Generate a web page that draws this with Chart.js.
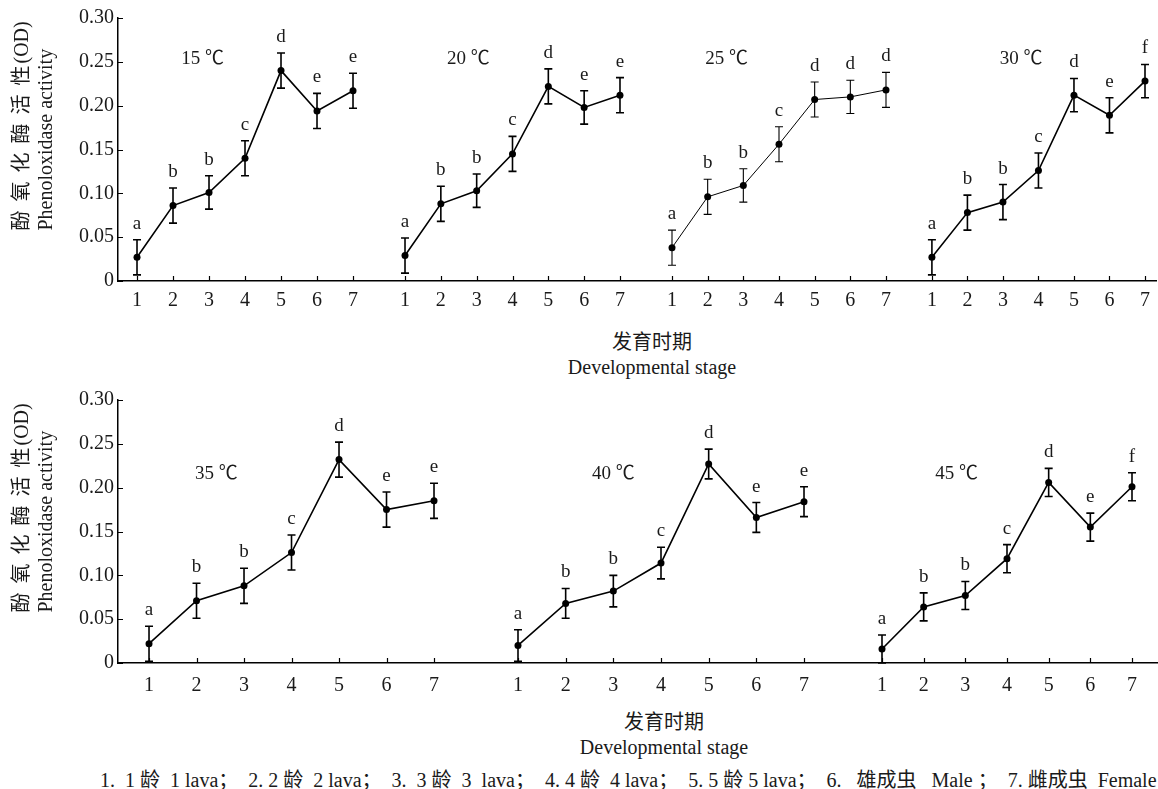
<!DOCTYPE html>
<html><head><meta charset="utf-8">
<script src="https://cdn.jsdelivr.net/npm/chart.js@4.4.0/dist/chart.umd.min.js"></script>
<style>
html,body{margin:0;padding:0;background:#fff;}
body{width:1158px;height:789px;position:relative;overflow:hidden;font-family:'Liberation Serif','Noto Sans CJK SC',serif;color:#1a1a1a;}
canvas{position:absolute;}
.xt{position:absolute;white-space:nowrap;transform:translate(-50%,-50%);font-size:20px;line-height:20px;}
#foot{position:absolute;left:100px;top:769px;font-size:20px;line-height:22px;white-space:pre;}
</style></head><body>
<div class="xt" style="left:652px;top:342px">发育时期</div>
<div class="xt" style="left:652px;top:367px">Developmental stage</div>
<div class="xt" style="left:664px;top:722px">发育时期</div>
<div class="xt" style="left:664px;top:747px">Developmental stage</div>
<div id="foot">1.  1 龄  1 lava；  2. 2 龄  2 lava；  3.  3 龄  3  lava；  4. 4 龄  4 lava；  5. 5 龄 5 lava；  6.   雄成虫   Male ；  7. 雌成虫  Female</div>
<script>
// ---- data ----
const stages = [1, 2, 3, 4, 5, 6, 7];
const stageLabels = ['1', '2', '3', '4', '5', '6', '7'];
const yTickValues = [0, 0.05, 0.10, 0.15, 0.20, 0.25, 0.30];
const temperatures = ['15 ℃', '20 ℃', '25 ℃', '30 ℃', '35 ℃', '40 ℃', '45 ℃'];
const yTitleCn = '酚氧化酶活性';
const yTitleUnit = '(OD)';
const yTitleEn = 'Phenoloxidase activity';

const po15 = [0.027, 0.086, 0.101, 0.140, 0.240, 0.194, 0.217];
const po20 = [0.029, 0.088, 0.103, 0.145, 0.222, 0.198, 0.212];
const po25 = [0.038, 0.096, 0.109, 0.156, 0.207, 0.210, 0.218];
const po30 = [0.027, 0.078, 0.090, 0.126, 0.212, 0.189, 0.228];
const po35 = [0.022, 0.071, 0.088, 0.126, 0.232, 0.175, 0.185];
const po40 = [0.020, 0.068, 0.082, 0.114, 0.227, 0.166, 0.184];
const po45 = [0.016, 0.064, 0.077, 0.119, 0.206, 0.155, 0.201];

const err15 = [0.020, 0.020, 0.019, 0.020, 0.020, 0.020, 0.020];
const err20 = [0.020, 0.020, 0.019, 0.020, 0.020, 0.019, 0.020];
const err25 = [0.020, 0.020, 0.019, 0.020, 0.020, 0.019, 0.020];
const err30 = [0.020, 0.020, 0.020, 0.020, 0.019, 0.020, 0.019];
const err35 = [0.020, 0.020, 0.020, 0.020, 0.020, 0.020, 0.020];
const err40 = [0.018, 0.017, 0.018, 0.018, 0.017, 0.017, 0.017];
const err45 = [0.016, 0.016, 0.016, 0.016, 0.016, 0.016, 0.016];

const sig15 = ['a', 'b', 'b', 'c', 'd', 'e', 'e'];
const sig20 = ['a', 'b', 'b', 'c', 'd', 'e', 'e'];
const sig25 = ['a', 'b', 'b', 'c', 'd', 'd', 'd'];
const sig30 = ['a', 'b', 'b', 'c', 'd', 'e', 'f'];
const sig35 = ['a', 'b', 'b', 'c', 'd', 'e', 'e'];
const sig40 = ['a', 'b', 'b', 'c', 'd', 'e', 'e'];
const sig45 = ['a', 'b', 'b', 'c', 'd', 'e', 'f'];

// ---- layout (not data) ----
const FONT = "'Liberation Serif','Noto Sans CJK SC',serif";
const INK = '#1a1a1a';
const rows = [
  {top: 0, height: 320, padTop: 18, axisH: 39, tickPad: 8},
  {top: 380, height: 320, padTop: 20, axisH: 37, tickPad: 11}
];
const panels = [
  {row: 0, left: 0,   right: 379,  xMin: 0.472, xMax: 7.722, lx: 2.82, ly: 0.253, lw: 1.6, v: po15, e: err15, s: sig15, t: temperatures[0]},
  {row: 0, left: 379, right: 646,  xMin: 0.274, xMax: 7.726, lx: 2.77, ly: 0.253, lw: 1.6, v: po20, e: err20, s: sig20, t: temperatures[1]},
  {row: 0, left: 646, right: 909,  xMin: 0.271, xMax: 7.645, lx: 2.53, ly: 0.253, lw: 1.0, v: po25, e: err25, s: sig25, t: temperatures[2]},
  {row: 0, left: 909, right: 1158, xMin: 0.355, xMax: 7.336, lx: 3.51, ly: 0.253, lw: 1.6, v: po30, e: err30, s: sig30, t: temperatures[3]},
  {row: 1, left: 0,   right: 476,  xMin: 0.347, xMax: 7.884, lx: 2.42, ly: 0.216, lw: 1.6, v: po35, e: err35, s: sig35, t: temperatures[4]},
  {row: 1, left: 476, right: 843,  xMin: 0.119, xMax: 7.818, lx: 3.00, ly: 0.216, lw: 1.6, v: po40, e: err40, s: sig40, t: temperatures[5]},
  {row: 1, left: 843, right: 1158, xMin: 0.064, xMax: 7.624, lx: 2.79, ly: 0.216, lw: 1.6, v: po45, e: err45, s: sig45, t: temperatures[6]}
];

function makePlugin(p, first) {
  return {
    id: 'extras',
    afterDatasetsDraw(chart) {
      const ctx = chart.ctx, xs = chart.scales.x, ys = chart.scales.y;
      ctx.save();
      ctx.strokeStyle = '#000';
      ctx.lineWidth = p.lw === 1 ? 1.1 : 1.6;
      ctx.fillStyle = INK;
      ctx.font = '19px ' + FONT;
      ctx.textAlign = 'center';
      ctx.textBaseline = 'alphabetic';
      stages.forEach((st, i) => {
        const x = xs.getPixelForValue(st);
        const yt = ys.getPixelForValue(p.v[i] + p.e[i]);
        const yb = ys.getPixelForValue(p.v[i] - p.e[i]);
        ctx.beginPath();
        ctx.moveTo(x, yt); ctx.lineTo(x, yb);
        ctx.moveTo(x - 4, yt); ctx.lineTo(x + 4, yt);
        ctx.moveTo(x - 4, yb); ctx.lineTo(x + 4, yb);
        ctx.stroke();
        ctx.fillText(p.s[i], x, yt - 11);
      });
      ctx.textBaseline = 'middle';
      ctx.fillText(p.t, xs.getPixelForValue(p.lx), ys.getPixelForValue(p.ly));
      ctx.restore();
    },
    afterDraw(chart) {
      const ctx = chart.ctx, xs = chart.scales.x, ys = chart.scales.y, a = chart.chartArea;
      ctx.save();
      ctx.strokeStyle = '#000';
      ctx.lineWidth = 1.2;
      ctx.beginPath();
      stages.forEach(st => {
        const x = Math.round(xs.getPixelForValue(st)) + 0.5;
        ctx.moveTo(x, a.bottom); ctx.lineTo(x, a.bottom - 5);
      });
      if (first) {
        yTickValues.forEach(v => {
          const y = Math.round(ys.getPixelForValue(v)) + 0.5;
          ctx.moveTo(a.left, y); ctx.lineTo(a.left + 5, y);
        });
      }
      ctx.stroke();
      if (first) {
        // two-line rotated y-axis title
        const yc = (a.top + a.bottom) / 2 + 81;
        ctx.fillStyle = INK;
        ctx.textAlign = 'left';
        ctx.textBaseline = 'middle';
        ctx.font = '20px ' + FONT;
        ctx.save();
        ctx.translate(23, yc); ctx.rotate(-Math.PI / 2);
        const hasLS = 'letterSpacing' in ctx;
        if (hasLS) ctx.letterSpacing = '9px';
        ctx.fillText(yTitleCn, 0, 0);
        const wCn = ctx.measureText(yTitleCn).width - (hasLS ? 7 : 0);
        if (hasLS) ctx.letterSpacing = '0px';
        ctx.fillText(yTitleUnit, wCn, 0);
        ctx.restore();
        ctx.save();
        ctx.translate(47, yc); ctx.rotate(-Math.PI / 2);
        ctx.fillText(yTitleEn, 0, 0);
        ctx.restore();
      }
      ctx.restore();
    }
  };
}

panels.forEach((p, idx) => {
  const r = rows[p.row];
  const first = idx === 0 || idx === 4;
  const cv = document.createElement('canvas');
  const w = p.right - p.left;
  cv.width = w; cv.height = r.height;
  cv.style.left = p.left + 'px'; cv.style.top = r.top + 'px';
  cv.style.width = w + 'px'; cv.style.height = r.height + 'px';
  document.body.appendChild(cv);
  const yScale = {
    display: first, min: 0, max: 0.30,
    afterBuildTicks: s => { s.ticks = yTickValues.map(v => ({value: v})); },
    grid: {display: false, drawTicks: false},
    border: {display: true, color: '#000', width: 1.5},
    ticks: {padding: 4, color: INK, font: {family: FONT, size: 20},
      callback: v => v === 0 ? '0' : v.toFixed(2)}
  };
  if (first) yScale.afterFit = s => { s.width = 118; };
  new Chart(cv, {
    type: 'line',
    data: {
      datasets: [{
        data: stages.map((st, i) => ({x: st, y: p.v[i]})),
        borderColor: '#000', borderWidth: p.lw,
        pointRadius: 3.5, pointBackgroundColor: '#000', pointBorderColor: '#000', pointBorderWidth: 0,
        tension: 0, fill: false
      }]
    },
    options: {
      responsive: false, animation: false, devicePixelRatio: 1,
      layout: {autoPadding: false, padding: {top: r.padTop, left: 0, right: 0, bottom: 0}},
      plugins: {legend: {display: false}, tooltip: {enabled: false}},
      scales: {
        x: {
          type: 'linear', min: p.xMin, max: p.xMax,
          afterBuildTicks: s => { s.ticks = stages.map(v => ({value: v})); },
          afterFit: s => { s.height = r.axisH; },
          grid: {display: false, drawTicks: false},
          border: {display: true, color: '#000', width: 1.5},
          ticks: {autoSkip: false, maxRotation: 0, padding: r.tickPad, color: INK,
            font: {family: FONT, size: 20},
            callback: v => stageLabels[stages.indexOf(v)]}
        },
        y: yScale
      }
    },
    plugins: [makePlugin(p, first)]
  });
});
</script>
</body></html>
